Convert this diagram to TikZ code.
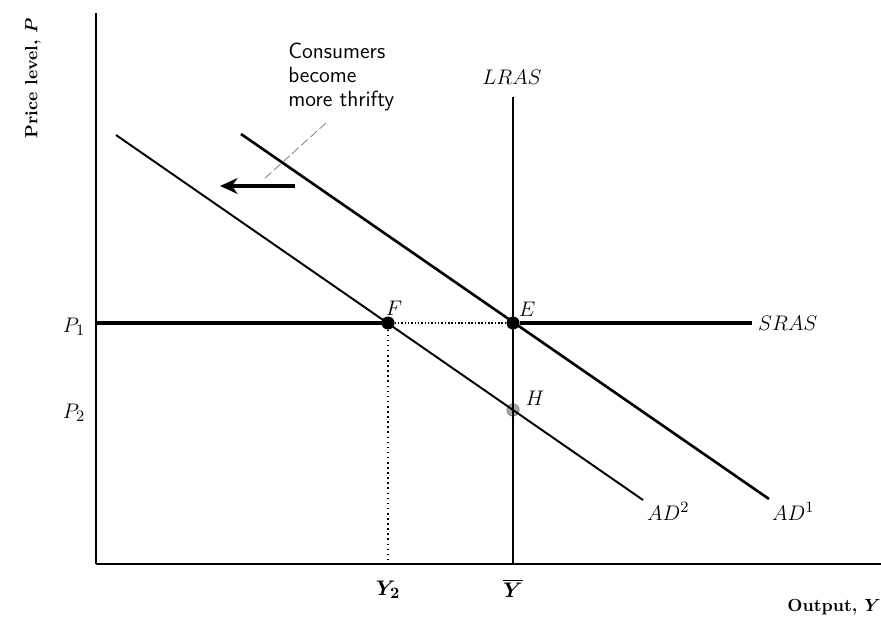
\documentclass[tikz,border=0pt]{standalone}
\usepackage{amsmath}
\usepackage{tikz}
\usetikzlibrary{arrows.meta,calc,positioning}

\begin{document}
\begin{tikzpicture}[x=0.02cm,y=-0.02cm,
axis/.style={line width=0.8pt},
curve/.style={line width=1.5pt},
thin curve/.style={line width=1.1pt},
dot/.style={circle,fill=black,draw=black,inner sep=0pt,minimum size=7pt},
grey dot/.style={circle,fill=black!35,draw=black!50,inner sep=0pt,minimum size=7pt},
lbl/.style={font=\fontsize{13}{15}\selectfont},
axlbl/.style={font=\bfseries}]
\useasboundingbox (0,0) rectangle (881,619);

% axes
\coordinate (O) at (96,564);
\coordinate (ytop) at (96,13);
\coordinate (xend) at (881,564);
\draw[axis] (O) -- (ytop);
\draw[axis] (O) -- (xend);
\node[axlbl,rotate=90] (ylabel) at (33,78) {Price level, $\boldsymbol{P}$};
\node[axlbl] (xlabel) at (834,607) {Output, $\boldsymbol{Y}$};

% curves
\coordinate (ad1a) at (241,134);
\coordinate (ad1b) at (769,499);
\coordinate (ad2a) at (116,135);
\coordinate (ad2b) at (643,500);
\coordinate (p1) at (96,323);
\coordinate (srasend) at (752,323);
\coordinate (lrastop) at (513,97);
\coordinate (ybar) at (513,564);
\coordinate (y2) at (388,564);

\node[dot] (F) at (388,323) {};
\node[dot] (E) at (513,323) {};
\node[grey dot] (H) at (513,410) {};

\draw[curve] (ad1a) -- (ad1b);
\draw[thin curve] (ad2a) -- (ad2b);
\draw[curve] (lrastop) -- (ybar);
\draw[line width=1.8pt] (p1) -- (F);
\draw[line width=0.9pt,densely dotted] (F) -- (E);
\draw[line width=1.8pt] (E) -- (srasend);
\draw[line width=0.9pt,dotted] (F) -- (y2);

% labels
\node[lbl,right] (sras) at (srasend) {$SRAS$};
\node[lbl] (lras) at (512,77) {$LRAS$};
\node[lbl,anchor=north west] (ad1) at (766,496) {$AD^1$};
\node[lbl,anchor=north west] (ad2) at (641,496) {$AD^2$};
\node[lbl] (Flbl) at (394,308) {$F$};
\node[lbl] (Elbl) at (527,309) {$E$};
\node[lbl] (Hlbl) at (535,398) {$H$};
\node[lbl] (P1lbl) at (74,327) {$P_1$};
\node[lbl] (P2lbl) at (74,413) {$P_2$};
\node[lbl] (Y2lbl) at (388,590) {$\boldsymbol{Y_2}$};
\node[lbl] (Ybarlbl) at (513,588) {$\boldsymbol{\overline{Y}}$};

% shift
\node[font=\fontsize{12.5}{13.5}\selectfont\sffamily,align=left,anchor=north west,inner sep=0pt] (thrifty) at (288,43)
  {Consumers\\become\\more thrifty};
\coordinate (leadtop) at (326,123);
\coordinate (leadend) at (263,180);
\draw[black!55,line width=0.4pt,dash pattern=on 5pt off 2pt] (leadtop) -- (leadend);
\coordinate (shifta) at (295,186);
\coordinate (shiftb) at (220,186);
\draw[line width=1.8pt,-{Stealth[length=10pt,width=9pt]}] (shifta) -- (shiftb);
\end{tikzpicture}
\end{document}
